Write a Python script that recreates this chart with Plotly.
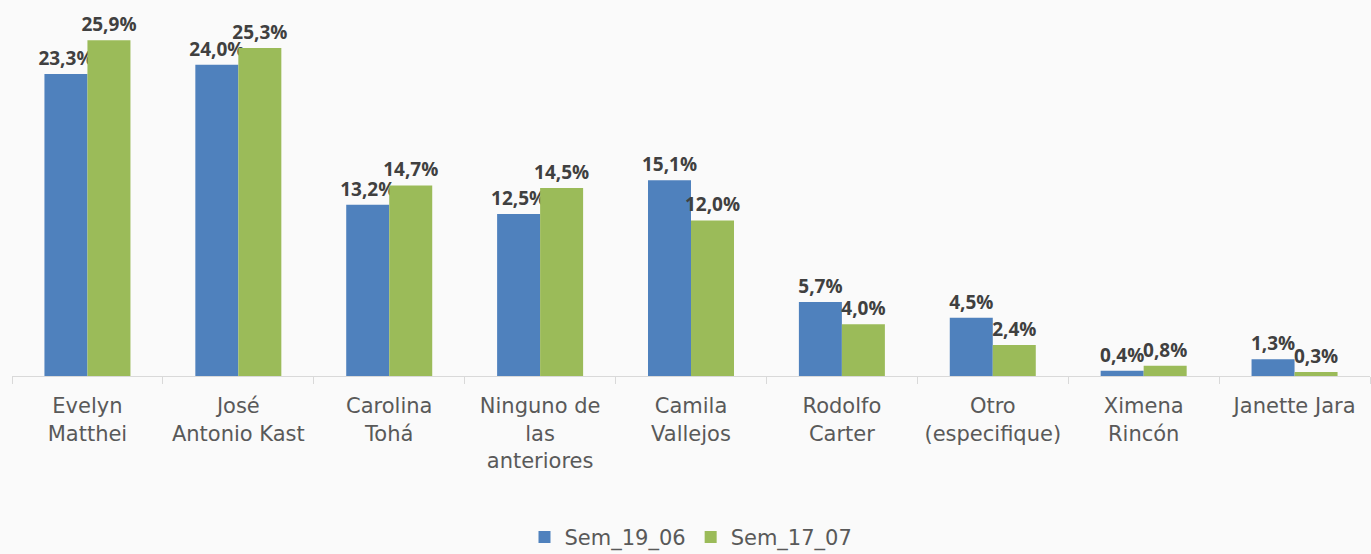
import plotly.graph_objects as go

categories = ["Evelyn<br>Matthei", "José<br>Antonio Kast", "Carolina<br>Tohá", "Ninguno de<br>las<br>anteriores",
              "Camila<br>Vallejos", "Rodolfo<br>Carter", "Otro<br>(especifique)", "Ximena<br>Rincón", "Janette Jara"]
sem_19_06 = [23.3, 24.0, 13.2, 12.5, 15.1, 5.7, 4.5, 0.4, 1.3]
sem_17_07 = [25.9, 25.3, 14.7, 14.5, 12.0, 4.0, 2.4, 0.8, 0.3]

def fmt(vals):
    return [f"{v:.1f}".replace(".", ",") + "%" for v in vals]

LBL_FONT = "Open Sans"
TXT_FONT = "DejaVu Sans"
fig = go.Figure()
for name, vals, col in [("Sem_19_06", sem_19_06, "#4F81BD"), ("Sem_17_07", sem_17_07, "#9BBB59")]:
    fig.add_trace(go.Bar(name=name, x=categories, y=vals, marker_color=col, marker_line_width=0,
                         text=fmt(vals), textposition="outside", constraintext="none", cliponaxis=False,
                         textfont=dict(family=LBL_FONT, size=19, color="#404040", weight="bold")))

fig.update_layout(
    width=1371, height=554,
    margin=dict(l=12, r=1, t=13, b=178, autoexpand=False),
    barmode="group", bargap=0.43, bargroupgap=0,
    paper_bgcolor="#fafafa", plot_bgcolor="#fafafa",
    font=dict(family=TXT_FONT, color="#595959"),
    showlegend=True,
    legend=dict(orientation="h", x=0.5, xanchor="center", y=0.03, yanchor="middle", yref="container",
                font=dict(family=TXT_FONT, size=21, color="#595959")),
)
fig.update_xaxes(showline=True, linecolor="#d9d9d9", linewidth=1, ticks="outside", tickson="boundaries",
                 tickcolor="#d9d9d9", ticklen=7, ticklabelstandoff=11,
                 tickfont=dict(family=TXT_FONT, size=21, color="#595959"), showgrid=False, automargin=False)
fig.update_yaxes(range=[0, 28], visible=False, showgrid=False, zeroline=False)

fig.write_html("out.html", config={"displayModeBar": False},
               post_script="document.body.style.margin='0';document.body.style.background='#fafafa';")
